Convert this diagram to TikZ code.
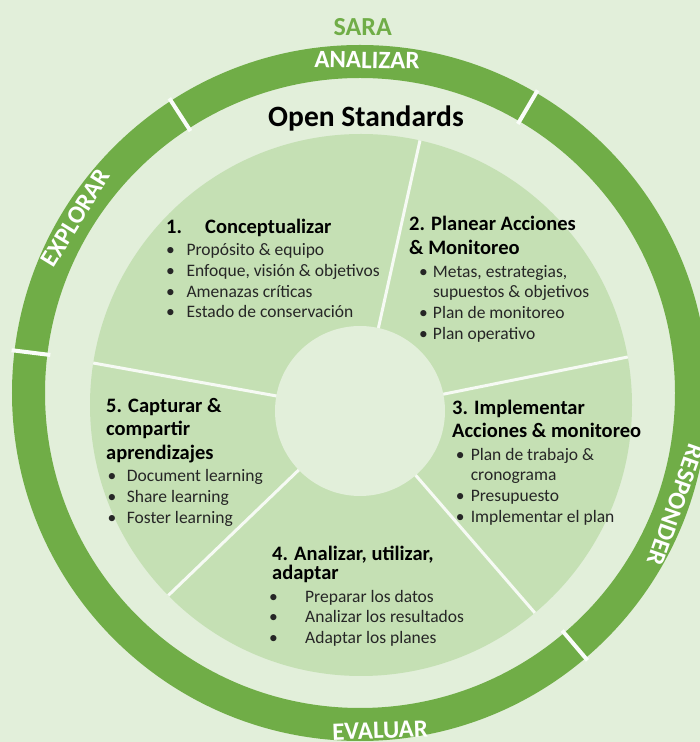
\documentclass[tikz,border=0pt]{standalone}
\usepackage{fontspec}
\setmainfont{Carlito}
\usepackage{xcolor}
\usepackage{tikz}
\usetikzlibrary{positioning,calc}
\definecolor{bgcol}{HTML}{E2EFDA}
\definecolor{piecol}{HTML}{C5E0B4}
\definecolor{ringcol}{HTML}{70AD47}
\definecolor{txtcol}{HTML}{262626}
\tikzstyle{ringlabel} = [text=white, font=\bfseries\fontsize{25}{25}\selectfont, inner sep=0pt]
\tikzstyle{stagetitle} = [anchor=north west, align=left, inner sep=0pt, text=black, font=\bfseries\fontsize{20.5}{23.5}\selectfont]
\tikzstyle{stagelist} = [align=left, inner sep=0pt, text=txtcol, font=\fontsize{17.5}{20.8}\selectfont]
\tikzstyle{sepline} = [line width=3pt, draw=white!70!bgcol]
\tikzstyle{gapline} = [line width=4pt, draw=white!80!bgcol]
\newcommand{\topstrut}{\rule{0pt}{16pt}}
\newcommand{\botstrut}{\rule[-6pt]{0pt}{6pt}}
\newcommand{\liststrut}{\rule{0pt}{15.5pt}}
\newcommand{\blt}[1]{\makebox[#1][l]{•}}

\begin{document}
\begin{tikzpicture}[x=1pt, y=1pt]
    \useasboundingbox (0,0) rectangle (700,742);
    \fill[bgcol] (0,0) rectangle (700,742);

    \coordinate (ring) at (360,349);
    \coordinate (pie) at (361,337);
    \coordinate (hub) at (360,331);

    % outer SARA ring
    \draw[ringcol, line width=33pt] (ring) circle (331.5);
    \foreach \a in {59.6,122.9,173,-49.6}
        \draw[gapline] ($(ring)+(\a:312)$) -- ($(ring)+(\a:351)$);

    \node (lbanalizar) [ringlabel, rotate=-1.2] at ($(ring)+(88.8:333)$) {ANALIZAR};
    \node (lbexplorar) [ringlabel, rotate=58.4] at ($(ring)+(148.4:334)$) {EXPLORAR};
    \node (lbresponder) [ringlabel, rotate=-109.5] at ($(ring)+(-19.5:335)$) {RESPONDER};
    \node (lbevaluar) [ringlabel, rotate=2] at ($(ring)+(-86.6:338)$) {EVALUAR};

    \node (sara) [anchor=base, inner sep=0pt, text=ringcol, font=\bfseries\fontsize{26}{26}\selectfont] at (362.7,706.7) {SARA};
    \node (title) [anchor=base, inner sep=0pt, text=black, font=\bfseries\fontsize{29.5}{29.5}\selectfont] at (366,615) {Open Standards};

    % Open Standards cycle
    \node (piedisc) [circle, fill=piecol, minimum size=542pt, inner sep=0pt] at (pie) {};
    \begin{scope}
        \clip (pie) circle (271);
        \foreach \a in {77.5,11.4,-49.1,223.9,169.8}
            \draw[sepline] (hub) -- ++(\a:320);
    \end{scope}
    \node (hubdisc) [circle, fill=bgcol, minimum size=170pt, inner sep=0pt] at (hub) {};

    \node (t1) [stagetitle] at (166,525) {\topstrut\makebox[39pt][l]{1.}Conceptualizar\botstrut};
    \node (b1) [stagelist, below=0.5pt of t1.south west, anchor=north west] {\liststrut\blt{20.4pt}Propósito \& equipo\\
        \blt{20.4pt}Enfoque, visión \& objetivos\\
        \blt{20.4pt}Amenazas críticas\\
        \blt{20.4pt}Estado de conservación};

    \node (t2) [stagetitle] at (409,528) {\topstrut 2. Planear Acciones\\[1pt] \& Monitoreo\botstrut};
    \node (b2) [stagelist, below=0.5pt of t2.south west, anchor=north west, xshift=10pt] {\liststrut\blt{13.8pt}Metas, estrategias,\\
        \hspace*{13.8pt}supuestos \& objetivos\\
        \blt{13.8pt}Plan de monitoreo\\
        \blt{13.8pt}Plan operativo};

    \node (t3) [stagetitle] at (452,344) {\topstrut 3. Implementar\\ Acciones \& monitoreo\botstrut};
    \node (b3) [stagelist, below=0.5pt of t3.south west, anchor=north west, xshift=3.6pt] {\liststrut\blt{15pt}Plan de trabajo \&\\
        \hspace*{15pt}cronograma\\
        \blt{15pt}Presupuesto\\
        \blt{15pt}Implementar el plan};

    \node (t4) [stagetitle] at (272,198) {\topstrut 4. Analizar, utilizar,\\[-4pt] adaptar\botstrut};
    \node (b4) [stagelist, below=0.5pt of t4.south west, anchor=north west, xshift=-3pt] {\liststrut\blt{36pt}Preparar los datos\\
        \blt{36pt}Analizar los resultados\\
        \blt{36pt}Adaptar los planes};

    \node (t5) [stagetitle] at (106,346) {\topstrut 5. Capturar \&\\ compartir\\ aprendizajes\botstrut};
    \node (b5) [stagelist, below=0.5pt of t5.south west, anchor=north west, xshift=1.3pt] {\liststrut\blt{19.4pt}Document learning\\
        \blt{19.4pt}Share learning\\
        \blt{19.4pt}Foster learning};
\end{tikzpicture}
\end{document}
